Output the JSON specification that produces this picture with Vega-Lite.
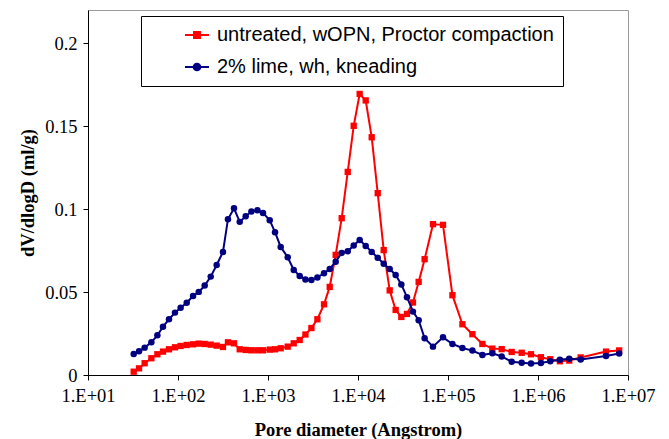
{
  "$schema": "https://vega.github.io/schema/vega-lite/v6.json",
  "width": 540,
  "height": 365,
  "autosize": "none",
  "padding": {"left": 88, "top": 10, "right": 41, "bottom": 64},
  "background": "white",
  "config": {
    "view": {"stroke": "#9a9a9a", "strokeWidth": 1},
    "font": "Times New Roman",
    "axis": {"labelFont": "Times New Roman", "titleFont": "Times New Roman", "labelFontSize": 18.5, "labelColor": "black"}
  },
  "datasets": {
    "pts": [
      {"d": 32.2, "red": 0.0020, "blue": 0.0127},
      {"d": 36.9, "red": 0.0040, "blue": 0.0143},
      {"d": 42.6, "red": 0.0071, "blue": 0.0165},
      {"d": 50.6, "red": 0.0101, "blue": 0.0197},
      {"d": 59.0, "red": 0.0125, "blue": 0.0239},
      {"d": 68.1, "red": 0.0141, "blue": 0.0291},
      {"d": 79.4, "red": 0.0155, "blue": 0.0336},
      {"d": 92.6, "red": 0.0167, "blue": 0.0376},
      {"d": 107, "red": 0.0175, "blue": 0.0406},
      {"d": 125, "red": 0.0181, "blue": 0.0436},
      {"d": 147, "red": 0.0185, "blue": 0.0476},
      {"d": 170, "red": 0.0189, "blue": 0.0501},
      {"d": 198, "red": 0.0187, "blue": 0.0539},
      {"d": 231, "red": 0.0183, "blue": 0.0593},
      {"d": 269, "red": 0.0177, "blue": 0.0663},
      {"d": 316, "red": 0.0169, "blue": 0.0742},
      {"d": 359, "red": 0.0197, "blue": 0.0939},
      {"d": 419, "red": 0.0191, "blue": 0.1005},
      {"d": 485, "red": 0.0155, "blue": 0.0923},
      {"d": 565, "red": 0.0151, "blue": 0.0957},
      {"d": 654, "red": 0.0149, "blue": 0.0985},
      {"d": 763, "red": 0.0149, "blue": 0.0993},
      {"d": 880, "red": 0.0149, "blue": 0.0977},
      {"d": 1045, "red": 0.0153, "blue": 0.0933},
      {"d": 1197, "red": 0.0155, "blue": 0.0861},
      {"d": 1384, "red": 0.0161, "blue": 0.0772},
      {"d": 1656, "red": 0.0171, "blue": 0.0710},
      {"d": 1932, "red": 0.0191, "blue": 0.0633},
      {"d": 2250, "red": 0.0211, "blue": 0.0597},
      {"d": 2605, "red": 0.0244, "blue": 0.0576},
      {"d": 3036, "red": 0.0283, "blue": 0.0573},
      {"d": 3539, "red": 0.0336, "blue": 0.0588},
      {"d": 4192, "red": 0.0426, "blue": 0.0613},
      {"d": 4850, "red": 0.0531, "blue": 0.0639},
      {"d": 5650, "red": 0.0724, "blue": 0.0683},
      {"d": 6590, "red": 0.0945, "blue": 0.0736},
      {"d": 7690, "red": 0.1224, "blue": 0.0746},
      {"d": 8960, "red": 0.1502, "blue": 0.0780},
      {"d": 10440, "red": 0.1694, "blue": 0.0814},
      {"d": 12180, "red": 0.1655, "blue": 0.0778},
      {"d": 14200, "red": 0.1433, "blue": 0.0742},
      {"d": 16560, "red": 0.1096, "blue": 0.0707},
      {"d": 19300, "red": 0.0753, "blue": 0.0671},
      {"d": 22500, "red": 0.0510, "blue": 0.0639},
      {"d": 26200, "red": 0.0392, "blue": 0.0603},
      {"d": 30300, "red": 0.0350, "blue": 0.0546},
      {"d": 35000, "red": 0.0368, "blue": 0.0469},
      {"d": 40800, "red": 0.0437, "blue": 0.0382},
      {"d": 47200, "red": 0.0561, "blue": 0.0330},
      {"d": 55000, "red": 0.0698, "blue": 0.0221},
      {"d": 68100, "red": 0.0909, "blue": 0.0171},
      {"d": 88000, "red": 0.0905, "blue": 0.0227},
      {"d": 112000, "red": 0.0481, "blue": 0.0187},
      {"d": 144600, "red": 0.0306, "blue": 0.0163},
      {"d": 186700, "red": 0.0246, "blue": 0.0147},
      {"d": 241000, "red": 0.0187, "blue": 0.0121},
      {"d": 311000, "red": 0.0159, "blue": 0.0131},
      {"d": 395000, "red": 0.0156, "blue": 0.0112},
      {"d": 510000, "red": 0.0139, "blue": 0.0080},
      {"d": 659000, "red": 0.0134, "blue": 0.0074},
      {"d": 836000, "red": 0.0125, "blue": 0.0069},
      {"d": 1077000, "red": 0.0107, "blue": 0.0072},
      {"d": 1368000, "red": 0.0095, "blue": 0.0083},
      {"d": 1750000, "red": 0.0083, "blue": 0.0092},
      {"d": 2222000, "red": 0.0087, "blue": 0.0098},
      {"d": 2980000, "red": 0.0106, "blue": 0.0093},
      {"d": 5700000, "red": 0.0141, "blue": 0.0115},
      {"d": 7980000, "red": 0.0148, "blue": 0.0130}
    ],
    "series": [
      {"series": "untreated, wOPN, Proctor compaction", "d": 1000, "v": 0.1},
      {"series": "2% lime, wh, kneading", "d": 1000, "v": 0.1}
    ]
  },
  "data": {"name": "pts"},
  "encoding": {
    "x": {
      "field": "d",
      "type": "quantitative",
      "scale": {"type": "log", "domain": [10, 10000000]},
      "axis": {
        "values": [10, 100, 1000, 10000, 100000, 1000000, 10000000],
        "labelExpr": "'1.E+0' + round(log(datum.value) / LN10)",
        "title": "Pore diameter (Angstrom)",
        "grid": false,
        "domainColor": "black",
        "tickColor": "black",
        "tickSize": 5,
        "labelFont": "Times New Roman",
        "labelFontSize": 18.5,
        "labelColor": "black",
        "labelFlush": false,
        "labelPadding": 6,
        "titleFont": "Times New Roman",
        "titleFontSize": 18.5,
        "titleFontWeight": "bold",
        "titleColor": "black",
        "titlePadding": 16
      }
    },
    "y": {
      "field": "v",
      "type": "quantitative",
      "scale": {"domain": [0, 0.22]},
      "axis": {
        "values": [0, 0.05, 0.1, 0.15, 0.2],
        "format": "~g",
        "title": "dV/dlogD (ml/g)",
        "grid": false,
        "domainColor": "black",
        "tickColor": "black",
        "tickSize": 5,
        "labelFont": "Times New Roman",
        "labelFontSize": 18.5,
        "labelColor": "black",
        "labelFlush": false,
        "labelPadding": 6,
        "titleFont": "Times New Roman",
        "titleFontSize": 18.5,
        "titleFontWeight": "bold",
        "titleColor": "black",
        "titlePadding": 7
      }
    }
  },
  "layer": [
    {
      "transform": [{"calculate": "datum.red", "as": "v"}],
      "mark": {"type": "line", "color": "#FF0000", "strokeWidth": 2}
    },
    {
      "transform": [{"calculate": "datum.red", "as": "v"}],
      "mark": {"type": "square", "color": "#FF0000", "size": 40, "opacity": 1}
    },
    {
      "transform": [{"calculate": "datum.blue", "as": "v"}],
      "mark": {"type": "line", "color": "#000080", "strokeWidth": 2}
    },
    {
      "transform": [{"calculate": "datum.blue", "as": "v"}],
      "mark": {"type": "circle", "color": "#000080", "size": 42, "opacity": 1}
    },
    {
      "data": {"name": "series"},
      "transform": [{"filter": "false"}],
      "mark": {"type": "point", "filled": true, "opacity": 1},
      "encoding": {
        "fill": {
          "field": "series", "type": "nominal",
          "scale": {"domain": ["untreated, wOPN, Proctor compaction", "2% lime, wh, kneading"], "range": ["#FF0000", "#000080"]},
          "legend": {"orient": "none", "legendX": 53, "legendY": 6, "title": null, "labelFont": "Liberation Sans", "labelFontSize": 20, "labelColor": "black", "labelLimit": 500, "strokeColor": "black", "fillColor": "white", "padding": 9, "symbolSize": 256, "symbolStrokeWidth": 2, "rowPadding": 12, "symbolOffset": 37, "labelOffset": 10}
        },
        "stroke": {
          "field": "series", "type": "nominal",
          "scale": {"domain": ["untreated, wOPN, Proctor compaction", "2% lime, wh, kneading"], "range": ["#FF0000", "#000080"]},
          "legend": {"orient": "none", "legendX": 53, "legendY": 6, "title": null, "labelFont": "Liberation Sans", "labelFontSize": 20, "labelColor": "black", "labelLimit": 500, "strokeColor": "black", "fillColor": "white", "padding": 9, "symbolSize": 256, "symbolStrokeWidth": 2, "rowPadding": 12, "symbolOffset": 37, "labelOffset": 10}
        },
        "shape": {
          "field": "series", "type": "nominal",
          "scale": {"domain": ["untreated, wOPN, Proctor compaction", "2% lime, wh, kneading"], "range": ["M-1.5,0H1.5M-0.37,-0.37H0.37V0.37H-0.37Z", "M-1.5,0H1.5M0.42,0A0.42,0.42,0,1,1,-0.42,0A0.42,0.42,0,1,1,0.42,0Z"]},
          "legend": {"orient": "none", "legendX": 53, "legendY": 6, "title": null, "labelFont": "Liberation Sans", "labelFontSize": 20, "labelColor": "black", "labelLimit": 500, "strokeColor": "black", "fillColor": "white", "padding": 9, "symbolSize": 256, "symbolStrokeWidth": 2, "rowPadding": 12, "symbolOffset": 37, "labelOffset": 10}
        }
      }
    }
  ]
}
